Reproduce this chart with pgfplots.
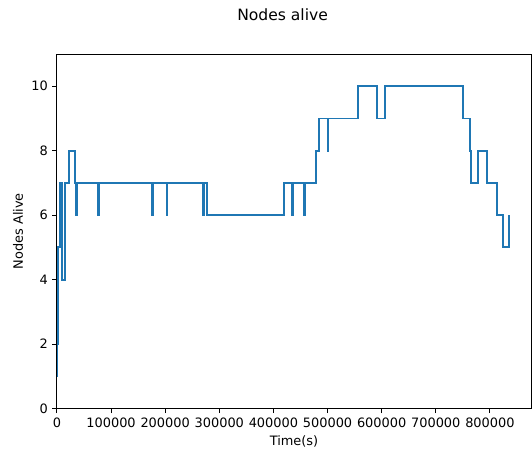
\documentclass[border=0pt]{standalone}
\usepackage{fontspec}
\setmainfont{DejaVu Sans}
\usepackage{pgfplots}
\pgfplotsset{compat=1.18}
\definecolor{mplblue}{HTML}{1F77B4}
\begin{document}
\fontsize{9.3}{11}\selectfont
\begin{tikzpicture}
\begin{axis}[
  name=ax,
  scale only axis,
  width=341.3pt, height=255.2pt,
  xmin=0, xmax=876000, ymin=0, ymax=11,
  xtick={0,100000,...,800000},
  ytick={0,2,4,6,8,10},
  scaled x ticks=false,
  /pgf/number format/assume math mode=true,
  xticklabel style={/pgf/number format/fixed,/pgf/number format/1000 sep={}},
  tick label style={font=\fontsize{9.3}{11}\selectfont},
  tick align=outside, xtick pos=bottom, ytick pos=left,
  major tick length=3.3pt,
  every tick/.style={line width=0.75pt, black},
  axis line style={line width=0.75pt},
  xlabel={Time(s)}, ylabel={Nodes Alive},
  every axis x label/.style={at={(axis description cs:0.5,0)}, anchor=center, yshift=-24pt},
  every axis y label/.style={at={(axis description cs:-0.082,0.5)}, anchor=center, rotate=90},
  title={Nodes alive},
  every axis title/.style={at={(axis description cs:0.476,1)}, anchor=center, yshift=28pt, font=\fontsize{11.2}{13}\selectfont, inner sep=0pt},
]
\addplot[const plot, color=mplblue, line width=1.4pt] table {
x y
0 1
1000 2
2500 5
6000 7
8000 6
9000 7
10200 4
15700 7
21900 8
34200 7
36000 6
37000 7
76000 6
77000 7
176000 6
177000 7
203000 6
204000 7
270000 6
271000 7
277000 6
419000 7
434500 6
435500 7
457000 6
458000 7
478700 8
483500 9
500000 8
501000 9
556000 10
592000 9
606000 10
751000 9
763000 8
764500 7
778000 8
794000 7
813000 6
824000 5
836000 6
836000 6
};
\end{axis}
\path ([shift={(-41pt,-32.4pt)}]ax.south west) rectangle ([shift={(0.7pt,38.9pt)}]ax.north east);
\end{tikzpicture}
\end{document}
